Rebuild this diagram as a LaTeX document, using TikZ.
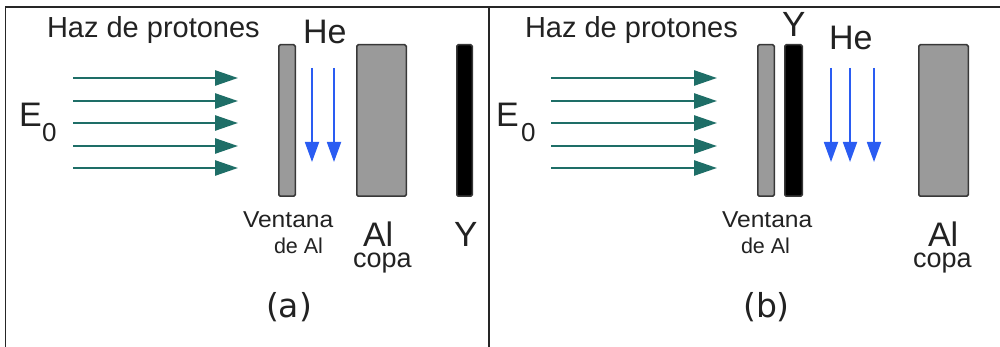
\documentclass[tikz,border=0pt]{standalone}
\usepackage{fontspec}
\setmainfont{Liberation Sans}
\newfontfamily\tagfont{DejaVu Sans}
\usetikzlibrary{arrows.meta}
\definecolor{beamteal}{HTML}{1E6E67}
\definecolor{heblue}{HTML}{2A5CF2}
\definecolor{plategray}{HTML}{9A9A9A}
\definecolor{edgegray}{HTML}{383838}
\definecolor{ink}{HTML}{222222}
\newcommand{\fs}[1]{\fontsize{#1}{#1}\selectfont}

\begin{document}
\begin{tikzpicture}[x=1pt,y=-1pt,
  lbl/.style={inner sep=0pt, outer sep=0pt, anchor=base west, text=ink},
  plate/.style={draw=edgegray, line width=1.5pt, rounded corners=1.5pt,
                fill=plategray, inner sep=0pt, minimum height=151.5pt},
  ymark/.style={plate, fill=black},
  beam/.style={beamteal, line width=2.6pt,
               -{Triangle[length=23pt, width=15pt]}},
  alpha/.style={heblue, line width=1.8pt,
                -{Triangle[length=20pt, width=14pt]}},
  frameline/.style={draw=black!85, line width=1.6pt}]

% page
\fill[white] (0,0) rectangle (1000,347);
\useasboundingbox (0,0) rectangle (1000,347);

% outer frame and divider
\coordinate (fTL) at (5.5,7);
\coordinate (fBL) at (5.5,347);
\coordinate (fTR) at (1000,7);
\coordinate (dT) at (489,7);
\coordinate (dB) at (489,347);
\draw[frameline] (fBL) -- (fTL) -- (fTR);
\draw[frameline] (dT) -- (dB);

% ===== panel (a) =====
\node[lbl] (hazA) at (47,38) {\fs{29}Haz de protones};
\node[lbl] (heA) at (303,44) {\fs{34}He};
\node[lbl] (eA) at (19,127) {\fs{34}E};
\node[lbl] (e0A) at (42,142) {\fs{26}0};

\node[plate, minimum width=16.5pt] (winA) at (287,120.5) {};
\node[plate, minimum width=49.5pt] (cupA) at (381.5,120.5) {};
\node[ymark, minimum width=15.5pt] (yA) at (464.5,120.5) {};

\foreach \i/\yy in {1/78,2/101,3/123,4/146,5/168}{
  \coordinate (bsA\i) at (73,\yy);
  \coordinate (beA\i) at (238,\yy);
  \draw[beam] (bsA\i) -- (beA\i);
}
\foreach \i/\xx in {1/312,2/334}{
  \coordinate (hsA\i) at (\xx,68);
  \coordinate (heA\i) at (\xx,162);
  \draw[alpha] (hsA\i) -- (heA\i);
}

\node[lbl] (venA) at (243,228) {\fs{23}\scalebox{1.07}[1]{Ventana}};
\node[lbl] (deA) at (274,253) {\fs{21.5}de Al};
\node[lbl] (alA) at (363,246) {\fs{34}Al};
\node[lbl] (copaA) at (353,267) {\fs{27}copa};
\node[lbl] (ytA) at (454,246) {\fs{35}Y};
\node[inner sep=0pt, text=ink] (tagA) at (289,307.5) {\tagfont\fs{33}(a)};

% ===== panel (b) =====
\node[lbl] (hazB) at (525,38) {\fs{29}Haz de protones};
\node[lbl] (ytB) at (782,37) {\fs{35}Y};
\node[lbl] (heB) at (829,50) {\fs{34}He};
\node[lbl] (eB) at (496,127) {\fs{34}E};
\node[lbl] (e0B) at (521,142) {\fs{26}0};

\node[plate, minimum width=16.5pt] (winB) at (766,120.5) {};
\node[ymark, minimum width=17.5pt] (yB) at (793.5,120.5) {};
\node[plate, minimum width=49.5pt] (cupB) at (943.5,120.5) {};

\foreach \i/\yy in {1/78,2/101,3/123,4/146,5/168}{
  \coordinate (bsB\i) at (551,\yy);
  \coordinate (beB\i) at (717,\yy);
  \draw[beam] (bsB\i) -- (beB\i);
}
\foreach \i/\xx in {1/831,2/850,3/874}{
  \coordinate (hsB\i) at (\xx,68);
  \coordinate (heB\i) at (\xx,162);
  \draw[alpha] (hsB\i) -- (heB\i);
}

\node[lbl] (venB) at (722,228) {\fs{23}\scalebox{1.07}[1]{Ventana}};
\node[lbl] (deB) at (741,253) {\fs{21.5}de Al};
\node[lbl] (alB) at (928,246) {\fs{34}Al};
\node[lbl] (copaB) at (913,267) {\fs{27}copa};
\node[inner sep=0pt, text=ink] (tagB) at (766.5,307.5) {\tagfont\fs{33}(b)};
\end{tikzpicture}
\end{document}
